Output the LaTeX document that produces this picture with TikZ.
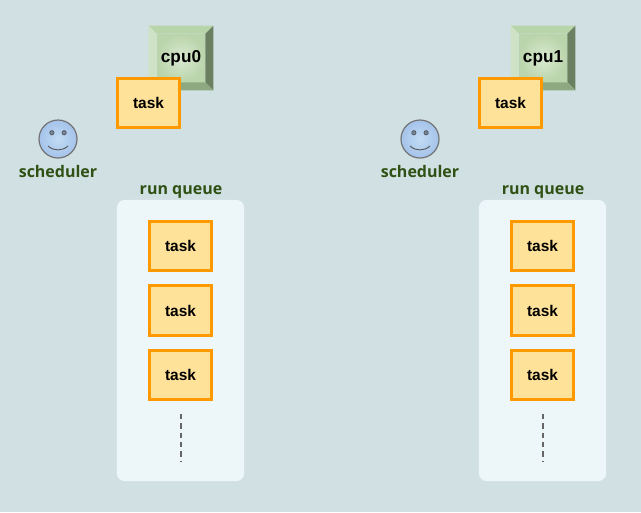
\documentclass[tikz,border=0pt]{standalone}
\usepackage{fontspec}
\setmainfont{Open Sans}
\newfontfamily\taskfont{Liberation Sans}
\usetikzlibrary{positioning}
\definecolor{bgcolor}{HTML}{D1E0E3}
\definecolor{queuecolor}{HTML}{EDF6F9}
\definecolor{taskfill}{HTML}{FFE29A}
\definecolor{taskline}{HTML}{FF9900}
\definecolor{labelcolor}{HTML}{2F5214}
\tikzset{
    taskbox/.style={draw=taskline, line width=2.25pt, fill=taskfill, inner sep=0pt,
        minimum width=47pt, minimum height=37pt, font=\taskfont\bfseries\fontsize{11.6}{13}\selectfont},
    queuebox/.style={fill=queuecolor, rounded corners=6pt, inner sep=0pt,
        minimum width=95.5pt, minimum height=211pt},
    darklabel/.style={text=labelcolor, inner sep=0pt, font=\bfseries\fontsize{12}{14}\selectfont},
    cpuouter/.style={inner sep=0pt, minimum size=48pt},
    cpuinner/.style={inner sep=0pt, minimum size=36pt, inner color=cpulight, outer color=cpuedge,
        font=\taskfont\bfseries\fontsize{12.9}{15}\selectfont},
    facebox/.style={circle, draw=black!55, line width=0.9pt, inner sep=0pt, minimum size=28.5pt,
        inner color=facelight, outer color=faceedge},
    eyedot/.style={circle, draw=black!65, fill=faceedge!70!black, line width=0.6pt, inner sep=0pt, minimum size=3.2pt},
    dots/.style={draw=black!60, line width=1.2pt, dash pattern=on 4pt off 3pt}
}
\definecolor{cpulight}{HTML}{DAEAD1}
\definecolor{cpuedge}{HTML}{BAD4AB}
\definecolor{cputop}{HTML}{B8D4A9}
\definecolor{cpuleft}{HTML}{CFE2C5}
\definecolor{cpuright}{HTML}{6B8060}
\definecolor{cpubottom}{HTML}{8EA881}
\definecolor{facelight}{HTML}{C2DBF5}
\definecolor{faceedge}{HTML}{A4C3EA}

% processor with bevelled edges: #1 name, #2 position, #3 text
\newcommand{\cpubox}[3]{
    \node[cpuouter] (#1out) at #2 {};
    \node[cpuinner] (#1) at #2 {#3};
    \fill[cputop] (#1out.north west) -- (#1out.north east) -- (#1.north east) -- (#1.north west) -- cycle;
    \fill[cpuleft] (#1out.north west) -- (#1out.south west) -- (#1.south west) -- (#1.north west) -- cycle;
    \fill[cpuright] (#1out.north east) -- (#1out.south east) -- (#1.south east) -- (#1.north east) -- cycle;
    \fill[cpubottom] (#1out.south west) -- (#1out.south east) -- (#1.south east) -- (#1.south west) -- cycle;
}
% smiling face: #1 name, #2 position
\newcommand{\facebox}[2]{
    \node[facebox] (#1) at #2 {};
    \node[eyedot] (#1eyel) at ([xshift=-4.6pt,yshift=4.7pt]#1.center) {};
    \node[eyedot] (#1eyer) at ([xshift=4.6pt,yshift=4.7pt]#1.center) {};
    \coordinate (#1ml) at ([xshift=-7.5pt,yshift=-5.2pt]#1.center);
    \coordinate (#1mr) at ([xshift=7.5pt,yshift=-5.2pt]#1.center);
    \draw[black!65, line width=0.7pt] (#1ml) .. controls ([xshift=4pt,yshift=-4pt]#1ml) and ([xshift=-4pt,yshift=-4pt]#1mr) .. (#1mr);
}

\begin{document}
\begin{tikzpicture}[x=0.75pt, y=-0.75pt]
    \fill[bgcolor] (0,0) rectangle (641,512);

    % first cpu
    \cpubox{cpua}{(181,58)}{cpu0}
    \node[taskbox] (curtaska) at (148.5,103) {task};
    \facebox{facea}{(58,139)}
    \node[darklabel] (schedlabela) at (58,171) {scheduler};
    \node[darklabel] (rqlabela) at (181,192) {run queue};
    \node[queuebox] (queuea) at (180.5,340.5) {};
    \node[taskbox] (taska) at (180.5,246) {task};
    \node[taskbox] (taskb) at (180.5,310.5) {task};
    \node[taskbox] (taskc) at (180.5,375) {task};
    \coordinate (dotsatop) at (180.7,414);
    \coordinate (dotsabot) at (180.7,461);
    \draw[dots] (dotsatop) -- (dotsabot);

    % second cpu
    \cpubox{cpub}{(543,58)}{cpu1}
    \node[taskbox] (curtaskb) at (510.5,103) {task};
    \facebox{faceb}{(420,139)}
    \node[darklabel] (schedlabelb) at (420,171) {scheduler};
    \node[darklabel] (rqlabelb) at (543,192) {run queue};
    \node[queuebox] (queueb) at (542.5,340.5) {};
    \node[taskbox] (taskd) at (542.5,246) {task};
    \node[taskbox] (taske) at (542.5,310.5) {task};
    \node[taskbox] (taskf) at (542.5,375) {task};
    \coordinate (dotsbtop) at (542.7,414);
    \coordinate (dotsbbot) at (542.7,461);
    \draw[dots] (dotsbtop) -- (dotsbbot);
\end{tikzpicture}
\end{document}
